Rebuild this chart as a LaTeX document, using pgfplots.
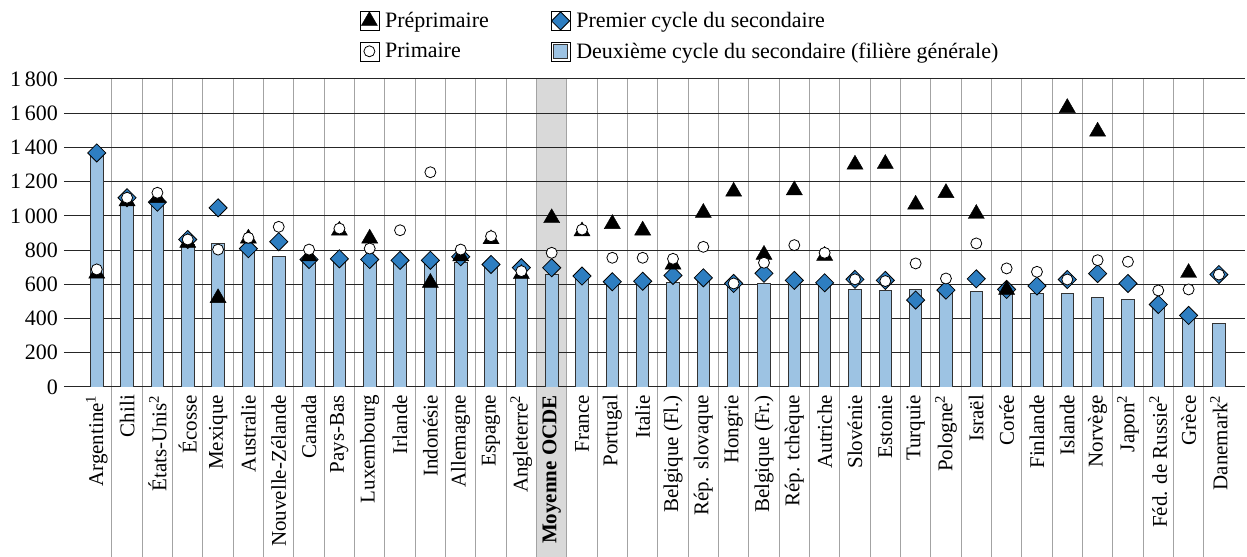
\documentclass[border=0pt]{standalone}
\usepackage{pgfplots}
\pgfplotsset{compat=1.18}
\usepackage{pgfplotstable}
\usepackage{fontspec}
\setmainfont{Liberation Serif}
\definecolor{barblue}{HTML}{9DC3E3}
\definecolor{diamblue}{HTML}{2E7EC1}
\definecolor{bandgray}{HTML}{D9D9D9}
\definecolor{sepgray}{HTML}{A3A3A3}
\newcommand\lab{\fontsize{21}{24}\selectfont}
\newcommand\tck{\fontsize{22}{25}\selectfont}
\newcommand\sml{\fontsize{18}{21}\selectfont}
\pgfplotstableread{
x tri circ diam bar
0 663 687 1368 1365
1 1086 1106 1106 1070
2 1105 1135 1080 1080
3 843 862 862 833
4 520 803 1047 837
5 868 872 808 800
6 nan 936 849 761
7 764 803 745 740
8 914 926 749 740
9 868 809 745 735
10 nan 916 740 730
11 609 1255 740 726
12 764 803 761 726
13 864 881 716 705
14 661 677 697 638
15 987 784 697 657
16 910 920 648 640
17 953 755 615 608
18 915 755 618 608
19 716 749 652 609
20 1018 819 638 620
21 1142 605 605 598
22 773 726 664 603
23 1150 829 623 600
24 767 784 609 600
25 1300 629 629 570
26 1304 619 623 566
27 1066 722 508 570
28 1134 634 566 560
29 1012 839 632 557
30 568 693 570 550
31 nan 673 590 547
32 1631 628 628 545
33 1493 741 663 521
34 nan 732 605 511
35 nan 564 482 478
36 667 570 418 406
37 nan 657 657 369
}\data
\begin{document}
\begin{tikzpicture}
\begin{axis}[
  name=ax, set layers,
  scale only axis, width=1181pt, height=308pt,
  xmin=-1.08, xmax=37.86, ymin=0, ymax=1800,
  axis line style={draw=none},
  xtick={0,...,37},
  xticklabels={Argentine\textsuperscript{1}, Chili, États-Unis\textsuperscript{2}, Écosse, Mexique, Australie, Nouvelle-Zélande, Canada, Pays-Bas, Luxembourg, Irlande, Indonésie, Allemagne, Espagne, Angleterre\textsuperscript{2}, \textbf{Moyenne OCDE}, France, Portugal, Italie, Belgique (Fl.), Rép. slovaque, Hongrie, Belgique (Fr.), Rép. tchèque, Autriche, Slovénie, Estonie, Turquie, Pologne\textsuperscript{2}, Israël, Corée, Finlande, Islande, Norvège, Japon\textsuperscript{2}, Féd. de Russie\textsuperscript{2}, Grèce, Danemark\textsuperscript{2}},
  x tick label style={rotate=90, anchor=east, font=\lab, inner sep=0pt},
  xticklabel shift=8pt,
  minor xtick={0.5,1.5,...,36.5},
  major tick length=0pt,
  minor tick length=170pt,
  tick align=outside,
  xtick pos=bottom, ytick pos=left,
  xminorgrids,
  minor x grid style={sepgray, line width=1pt},
  minor x tick style={sepgray, line width=1pt},
  ytick={0,200,...,1800},
  yticklabels={0,200,400,600,800,1\,000,1\,200,1\,400,1\,600,1\,800},
  y tick label style={font=\tck, inner sep=0pt},
  yticklabel shift=6pt,
  ymajorgrids,
  major y grid style={black!85, line width=1pt},
  legend columns=2,
  legend cell align=left,
  legend style={draw=none, fill=none, font=\tck, inner sep=0pt,
    at={(axis description cs:0.2502,1.2208)}, anchor=north west,
    row sep=11pt, nodes={inner sep=0pt},
    /tikz/every odd column/.append style={column sep=6pt},
    /tikz/every even column/.append style={column sep=62pt}},
  legend image code/.code={\path (-9.5pt,-9.5pt) rectangle (9.5pt,9.5pt); \draw[#1] plot coordinates {(0pt,0pt)};},
]
\begin{pgfonlayer}{axis background}
\fill[bandgray] (axis cs:14.5,1800) rectangle ([yshift=-170pt]axis cs:15.5,0);
\end{pgfonlayer}
\addlegendimage{only marks, mark=triangle*, mark size=9.3pt, mark options={fill=black, draw=black}}
\addlegendentry{Préprimaire}
\addlegendimage{only marks, mark=square*, mark size=6.4pt, mark options={rotate=45, fill=diamblue, draw=black, line width=0.8pt}}
\addlegendentry{Premier cycle du secondaire}
\addlegendimage{only marks, mark=*, mark size=5.5pt, mark options={fill=white, draw=black, line width=0.8pt}}
\addlegendentry{Primaire}
\addlegendimage{legend image code/.code={\draw[fill=barblue, draw=black!80, line width=0.8pt] (-7pt,-7pt) rectangle (7pt,7pt); \path (-9.5pt,-9.5pt) rectangle (9.5pt,9.5pt);}}
\addlegendentry{Deuxième cycle du secondaire (filière générale)}

\addplot[forget plot, ybar, bar width=0.41, bar shift=0pt, fill=barblue, draw=black!80, line width=0.8pt] table[x=x, y=bar] {\data};
\addplot[forget plot, only marks, mark=square*, mark size=6.4pt, mark options={rotate=45, fill=diamblue, draw=black, line width=0.8pt}] table[x=x, y=diam] {\data};
\addplot[forget plot, only marks, mark=triangle*, mark size=9.3pt, mark options={fill=black, draw=black}] table[x=x, y=tri] {\data};
\addplot[forget plot, only marks, mark=*, mark size=5.5pt, mark options={fill=white, draw=black, line width=0.8pt}] table[x=x, y=circ] {\data};

\node[anchor=base west, font=\sml, inner sep=0pt] at ([shift={(-54pt,21pt)}]rel axis cs:0,1) {Nombre annuel d’heures};
\end{axis}
\pgfresetboundingbox
\path ([xshift=-64pt,yshift=-170pt]ax.south west) rectangle ([xshift=2pt,yshift=79pt]ax.north east);
\end{tikzpicture}
\end{document}
